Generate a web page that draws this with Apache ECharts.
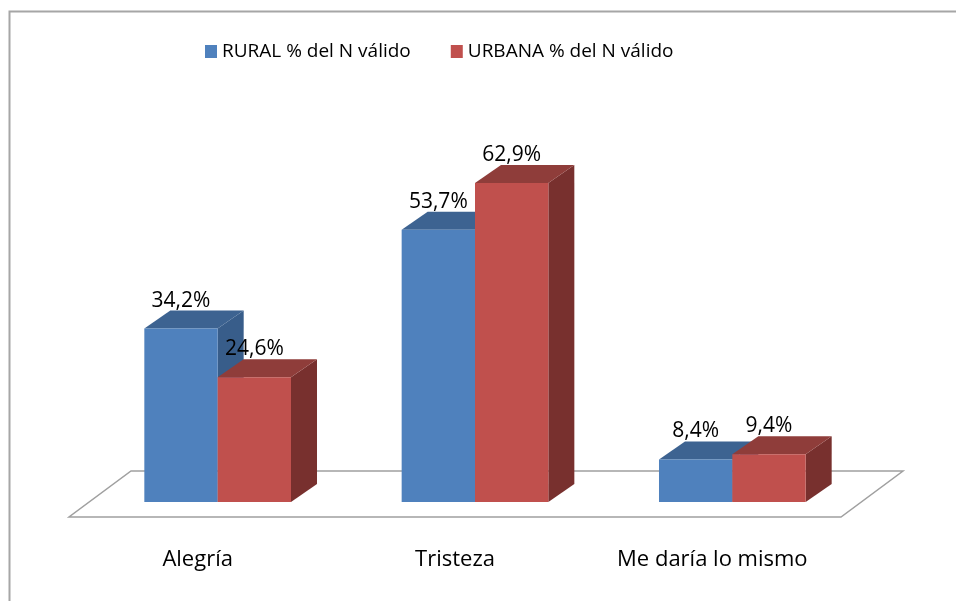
<!DOCTYPE html>
<html>
<head>
<meta charset="utf-8">
<script src="https://cdn.jsdelivr.net/npm/echarts@6/dist/echarts.min.js"></script>
<style>
  html, body { margin: 0; padding: 0; background: #fff; }
  #chart { width: 956px; height: 601px; }
</style>
</head>
<body>
<div id="chart"></div>
<script>
var categories = ['Alegría', 'Tristeza', 'Me daría lo mismo'];
var rural = [34.2, 53.7, 8.4];
var urbana = [24.6, 62.9, 9.4];
var seriesNames = ['RURAL % del N válido', 'URBANA % del N válido'];

// front, top, side colours per series
var shades = [
  { front: '#4F81BD', top: '#3D6391', side: '#385D8A' },
  { front: '#C0504D', top: '#8F3D3A', side: '#78302E' }
];
var DX = 26, DY = -18;   // bar depth
var FONT = 'Open Sans';

function fmt(v) {
  return v.toFixed(1).replace('.', ',') + '%';
}

function barRenderer(idx) {
  return function (params, api) {
    var c = api.value(0);
    var v = api.value(1);
    var base = api.coord([c, 0]);
    var top = api.coord([c, v]);
    var bw = api.size([1, 0])[0] * 0.285;
    var x0 = idx === 0 ? base[0] - bw : base[0];
    var x1 = x0 + bw;
    var yb = base[1], yt = top[1];
    var s = shades[idx];
    return {
      type: 'group',
      children: [
        { type: 'polygon', shape: { points: [[x1, yt], [x1 + DX, yt + DY], [x1 + DX, yb + DY], [x1, yb]] },
          style: { fill: s.side } },
        { type: 'polygon', shape: { points: [[x0, yt], [x1, yt], [x1 + DX, yt + DY], [x0 + DX, yt + DY]] },
          style: { fill: s.top } },
        { type: 'rect', shape: { x: x0, y: yt, width: bw, height: yb - yt },
          style: { fill: s.front } },
        { type: 'text', x: (x0 + x1) / 2, y: yt - 28,
          style: { text: fmt(v), fill: '#000', font: '21px "' + FONT + '"', align: 'center', verticalAlign: 'middle' } }
      ]
    };
  };
}

function floorRenderer(params, api) {
  var cs = params.coordSys;
  var y = cs.y + cs.height;
  var xl = cs.x, xr = cs.x + cs.width;
  return {
    type: 'polygon',
    shape: { points: [[xl - 20, y + 15], [xr - 20, y + 15], [xr + 42, y - 31], [xl + 42, y - 31]] },
    style: { fill: '#fff', stroke: '#a0a0a0', lineWidth: 1.5 }
  };
}

var chart = echarts.init(document.getElementById('chart'));
chart.setOption({
  backgroundColor: '#fff',
  animation: false,
  graphic: [{
    type: 'rect', shape: { x: 9.5, y: 11.5, width: 1000, height: 1000 },
    style: { fill: null, stroke: '#a6a6a6', lineWidth: 2 }, z: 100
  }],
  legend: {
    data: seriesNames,
    left: 200,
    top: 37,
    icon: 'rect',
    itemWidth: 12,
    itemHeight: 13,
    itemGap: 40,
    textStyle: { fontFamily: FONT, fontSize: 19, color: '#000' }
  },
  grid: { left: 89, right: 95, top: 147, bottom: 99 },
  xAxis: {
    type: 'category',
    data: categories,
    axisLine: { show: false },
    axisTick: { show: false },
    axisLabel: {
      margin: 47,
      fontFamily: FONT,
      fontSize: 22,
      color: '#000',
      padding: [0, 40, 0, 0]
    }
  },
  yAxis: { type: 'value', min: 0, max: 70, show: false, splitLine: { show: false } },
  series: [
    { type: 'custom', name: 'floor', data: [[0]], renderItem: floorRenderer, z: 1, silent: true },
    { type: 'custom', name: seriesNames[0], itemStyle: { color: shades[0].front },
      data: rural.map(function (v, i) { return [i, v]; }),
      encode: { x: 0, y: 1 }, renderItem: barRenderer(0), z: 2 },
    { type: 'custom', name: seriesNames[1], itemStyle: { color: shades[1].front },
      data: urbana.map(function (v, i) { return [i, v]; }),
      encode: { x: 0, y: 1 }, renderItem: barRenderer(1), z: 3 }
  ]
});
</script>
</body>
</html>
